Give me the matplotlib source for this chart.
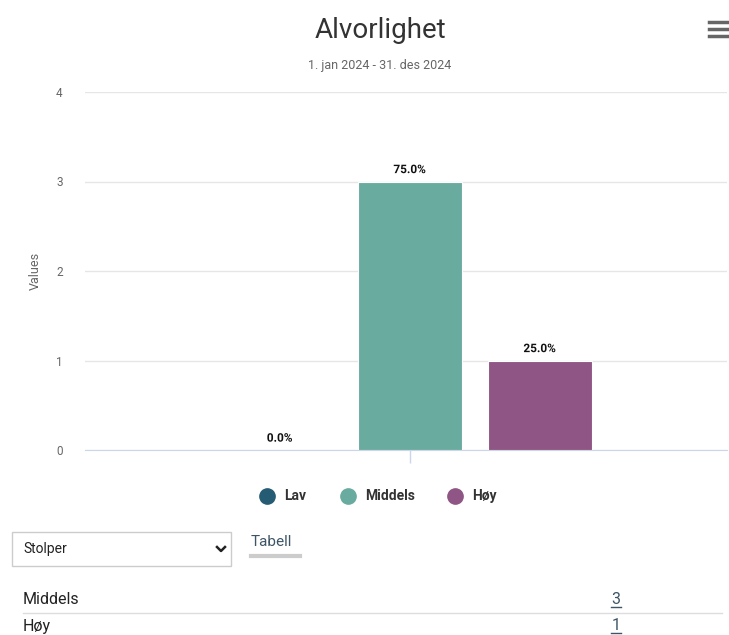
import matplotlib.pyplot as plt
import matplotlib.patheffects as pe
from matplotlib.patches import Rectangle
from matplotlib.lines import Line2D

plt.rcParams['font.family'] = ['Roboto', 'DejaVu Sans']

# data
categories = ["Lav", "Middels", "Høy"]
values = [0, 3, 1]
colors = ["#265b74", "#6aab9f", "#8f5584"]
title = "Alvorlighet"
subtitle = "1. jan 2024 - 31. des 2024"

total = sum(values)
W, H = 729, 635
fig = plt.figure(figsize=(W / 100, H / 100), dpi=100)

def fx(px):
    return px / W

def fy(py):
    return 1 - py / H

# plot area
ax = fig.add_axes([fx(85), fy(450), fx(727) - fx(85), fy(92) - fy(450)])
positions = [-1, 0, 1]
ax.bar(positions, values, width=0.8, color=colors, edgecolor="white", linewidth=0.8, zorder=3)
ax.set_xlim(-2.496, 2.442)
ax.set_ylim(0, 4)
ax.set_yticks([0, 1, 2, 3, 4])
ax.tick_params(axis="y", length=0, pad=16, labelsize=8.5, labelcolor="#666666")
ax.set_xticks([0])
ax.set_xticklabels([""])
ax.tick_params(axis="x", length=9, color="#ccd6eb", width=1)
ax.grid(axis="y", color="#e6e6e6", linewidth=1, zorder=0)
for s in ["top", "right", "left"]:
    ax.spines[s].set_visible(False)
ax.spines["bottom"].set_color("#ccd6eb")
ax.set_ylabel("Values", fontsize=9, color="#666666", labelpad=10)

for x, v in zip(positions, values):
    t = ax.text(x, v + 0.06, f"{v / total * 100:.1f}%", ha="center", va="bottom",
                fontsize=8.5, fontweight="bold", color="#111111", zorder=4)
    t.set_path_effects([pe.withStroke(linewidth=2.5, foreground="white")])

# title
fig.text(fx(380), fy(31), title, ha="center", va="center", fontsize=20, color="#333333")
fig.text(fx(380), fy(66), subtitle, ha="center", va="center", fontsize=9, color="#666666")

# menu icon
for yy in [22, 29, 36]:
    fig.add_artist(Line2D([fx(709), fx(728)], [fy(yy), fy(yy)], color="#666666", linewidth=2.5))

# legend
leg_x = [267, 348, 455]
for lx, name, c in zip(leg_x, categories, colors):
    fig.add_artist(Line2D([fx(lx)], [fy(496)], marker="o", markersize=11, color=c, linestyle=""))
    fig.text(fx(lx + 17), fy(496), name, ha="left", va="center", fontsize=10,
             fontweight="bold", color="#333333")

# dropdown
fig.add_artist(Rectangle((fx(12), fy(566)), fx(231) - fx(12), fy(532) - fy(566),
                         facecolor="white", edgecolor="#cccccc", linewidth=1))
fig.text(fx(23), fy(549), "Stolper", ha="left", va="center", fontsize=10, color="#222222")
fig.add_artist(Line2D([fx(217), fx(221), fx(225)], [fy(547), fy(551), fy(547)],
                      color="#222222", linewidth=1.8))
fig.text(fx(251), fy(542), "Tabell", ha="left", va="center", fontsize=11, color="#3e5566")
fig.add_artist(Line2D([fx(251), fx(300)], [fy(556), fy(556)], color="#cccccc", linewidth=3))

# table rows (non-zero categories)
rows = [(c, v) for c, v in zip(categories, values) if v > 0]
row_y = [600, 626]
for (name, v), ry in zip(rows, row_y):
    fig.text(fx(23), fy(ry), name, ha="left", va="center", fontsize=11.5, color="#222222")
    fig.text(fx(616), fy(ry), str(v), ha="center", va="center", fontsize=11.5, color="#3e5566")
    fig.add_artist(Line2D([fx(611), fx(621)], [fy(ry + 7), fy(ry + 7)], color="#3e5566", linewidth=1))
fig.add_artist(Line2D([fx(23), fx(722)], [fy(613), fy(613)], color="#dddddd", linewidth=1))

fig.savefig("out.png", dpi=100)
